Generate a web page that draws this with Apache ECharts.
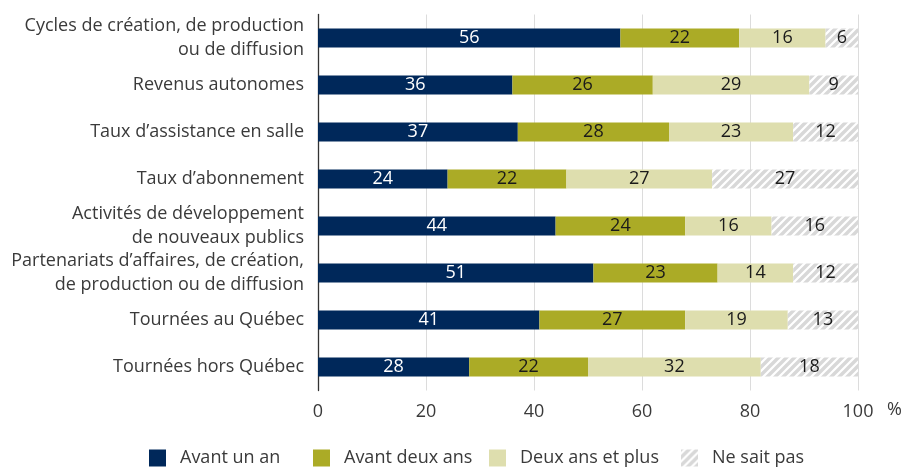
<!DOCTYPE html>
<html lang="fr">
<head>
    <meta charset="UTF-8">
    <title>Délais</title>
    <script src="https://cdn.jsdelivr.net/npm/echarts@6/dist/echarts.min.js"></script>
</head>
<style>
    body { margin:0; padding:0; background:#fff; }
    #main { width:915px; height:468px; }
</style>
<body>
<div id="main"></div>
<script>
    // categories (top to bottom)
    var categories = [
        'Cycles de création, de production\nou de diffusion',
        'Revenus autonomes',
        'Taux d\u2019assistance en salle',
        'Taux d\u2019abonnement',
        'Activités de développement\nde nouveaux publics',
        'Partenariats d\u2019affaires, de création,\nde production ou de diffusion',
        'Tournées au Québec',
        'Tournées hors Québec'
    ];
    var seriesNames = ['Avant un an', 'Avant deux ans', 'Deux ans et plus', 'Ne sait pas'];
    var avantUnAn = [56, 36, 37, 24, 44, 51, 41, 28];
    var avantDeuxAns = [22, 26, 28, 22, 24, 23, 27, 22];
    var deuxAnsEtPlus = [16, 29, 23, 27, 16, 14, 19, 32];
    var neSaitPas = [6, 9, 12, 27, 16, 12, 13, 18];
    var xTicks = [0, 20, 40, 60, 80, 100];

    var font = '"Open Sans", "Noto Sans", sans-serif';
    var textColor = '#3a3a3a';

    // motif hachuré pour « Ne sait pas »
    function hatch() {
        var c = document.createElement('canvas');
        c.width = 8; c.height = 8;
        var ctx = c.getContext('2d');
        ctx.fillStyle = '#ffffff';
        ctx.fillRect(0, 0, 8, 8);
        ctx.strokeStyle = '#d8d8d8';
        ctx.lineWidth = 3.4;
        ctx.beginPath();
        ctx.moveTo(-1, 9); ctx.lineTo(9, -1);
        ctx.moveTo(-5, 5); ctx.lineTo(5, -5);
        ctx.moveTo(3, 13); ctx.lineTo(13, 3);
        ctx.stroke();
        return {image: c, repeat: 'repeat'};
    }

    var colors = ['#00285a', '#abab26', '#dedeae', hatch()];
    var values = [avantUnAn, avantDeuxAns, deuxAnsEtPlus, neSaitPas];
    var labelColors = ['#ffffff', '#1a1a1a', '#1a1a1a', '#1a1a1a'];

    var series = [];
    for (var i = 0; i < 4; i++) {
        series.push({
            name: seriesNames[i],
            type: 'bar',
            stack: 'total',
            barWidth: 19,
            data: values[i],
            itemStyle: {color: colors[i]},
            label: {
                show: true,
                position: 'inside',
                color: labelColors[i],
                fontSize: 18,
                fontFamily: font
            },
            emphasis: {disabled: true}
        });
    }

    var legendLeft = [149, 313, 489, 681];
    var legends = [];
    for (var j = 0; j < 4; j++) {
        legends.push({
            data: [seriesNames[j]],
            left: legendLeft[j],
            top: 449,
            padding: 0,
            icon: 'rect',
            itemWidth: 17,
            itemHeight: 17,
            selectedMode: false,
            textStyle: {
                fontSize: 18,
                color: textColor,
                fontFamily: font,
                padding: [0, 0, 0, 9]
            }
        });
    }

    var myChart = echarts.init(document.getElementById('main'));
    var option = {
        animation: false,
        legend: legends,
        grid: {left: 318, right: 57, top: 14.5, bottom: 77.5},
        xAxis: {
            type: 'value',
            min: xTicks[0],
            max: xTicks[xTicks.length - 1],
            interval: 20,
            axisLine: {show: false},
            axisTick: {show: false},
            axisLabel: {fontSize: 18, color: textColor, fontFamily: font, margin: 12},
            splitLine: {lineStyle: {color: '#dcdcdc', width: 1}}
        },
        yAxis: {
            type: 'category',
            inverse: true,
            data: categories,
            axisLine: {lineStyle: {color: '#333', width: 1.3}},
            axisTick: {length: 9, lineStyle: {color: '#333', width: 1.3}},
            axisLabel: {
                fontSize: 18,
                color: textColor,
                fontFamily: font,
                margin: 14,
                lineHeight: 24,
                align: 'right'
            }
        },
        graphic: [{
            type: 'text',
            left: 887,
            top: 401,
            style: {text: '%', fontSize: 18, fill: textColor, fontFamily: font}
        }],
        series: series
    };
    myChart.setOption(option);
</script>
</body>
</html>
